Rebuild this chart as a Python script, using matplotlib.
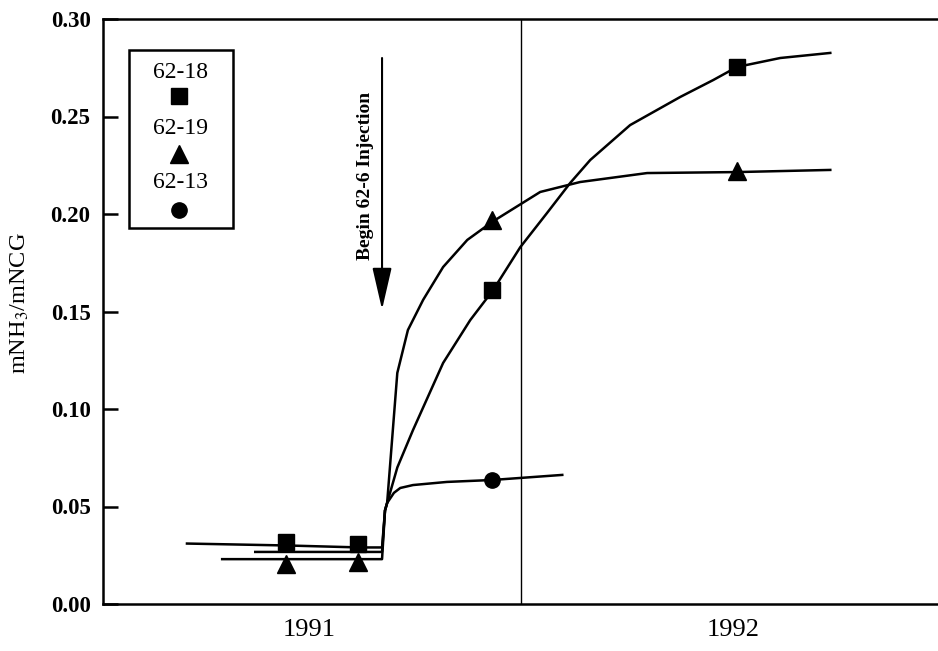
import numpy as np
import matplotlib.pyplot as plt

plt.rcParams['font.family'] = ['Liberation Serif', 'DejaVu Serif']
plt.rcParams['mathtext.fontset'] = 'stix'

# curves (decimal year, mNH3/mNCG)
x_6218 = [1991.212, 1991.45, 1991.62, 1991.672, 1991.679, 1991.684, 1991.708, 1991.745,
          1991.816, 1991.880, 1991.934, 1991.998, 1992.061, 1992.116, 1992.163, 1992.257,
          1992.375, 1992.453, 1992.509, 1992.611, 1992.729]
y_6218 = [0.031, 0.030, 0.029, 0.029, 0.048, 0.0518, 0.070, 0.0892,
          0.1236, 0.1456, 0.161, 0.183, 0.2005, 0.216, 0.2277, 0.2456,
          0.260, 0.2687, 0.2754, 0.280, 0.2826]

x_6219 = [1991.295, 1991.45, 1991.62, 1991.672, 1991.679, 1991.684, 1991.708, 1991.733,
          1991.769, 1991.816, 1991.873, 1991.932, 1992.045, 1992.139, 1992.297, 1992.509, 1992.729]
y_6219 = [0.023, 0.023, 0.023, 0.023, 0.048, 0.0518, 0.1185, 0.1405,
          0.156, 0.1728, 0.1867, 0.196, 0.2113, 0.2164, 0.221, 0.2215, 0.2226]

x_6213 = [1991.373, 1991.62, 1991.672, 1991.679, 1991.684, 1991.700, 1991.715, 1991.745,
          1991.825, 1991.932, 1992.097]
y_6213 = [0.0267, 0.0267, 0.0267, 0.048, 0.0518, 0.057, 0.0595, 0.061,
          0.0626, 0.0636, 0.0662]

# measured points
pts_6218_x = [1991.446, 1991.616, 1991.932, 1992.509]
pts_6218_y = [0.032, 0.031, 0.161, 0.2755]
pts_6219_x = [1991.446, 1991.616, 1991.932, 1992.509]
pts_6219_y = [0.0205, 0.0215, 0.197, 0.222]
pts_6213_x = [1991.932]
pts_6213_y = [0.0636]

legend_labels = ['62-18', '62-19', '62-13']
legend_markers = ['s', '^', 'o']

year_ticks = [1991.5, 1992.5]
year_labels = ['1991', '1992']
y_ticks = [0.0, 0.05, 0.10, 0.15, 0.20, 0.25, 0.30]

injection_year = 1991.672

fig = plt.figure(figsize=(9.38, 6.51), dpi=100)
ax = fig.add_axes([103/938, 47/651, 835/938, 585/651])

lw = 1.8
ax.plot(x_6218, y_6218, color='black', lw=lw)
ax.plot(x_6219, y_6219, color='black', lw=lw)
ax.plot(x_6213, y_6213, color='black', lw=lw)
ax.plot(pts_6218_x, pts_6218_y, 's', color='black', ms=12, ls='none')
ax.plot(pts_6219_x, pts_6219_y, '^', color='black', ms=13, ls='none')
ax.plot(pts_6213_x, pts_6213_y, 'o', color='black', ms=11, ls='none')

# year divider
ax.axvline(1992.0, color='black', lw=1.0)

ax.set_xlim(1991.014, 1992.983)
ax.set_ylim(0, 0.30)

ax.spines['right'].set_visible(False)
for s in ['left', 'bottom', 'top']:
    ax.spines[s].set_linewidth(lw)

ax.set_yticks(y_ticks)
ax.set_yticklabels(['%.2f' % v for v in y_ticks], fontweight='bold', fontsize=16.5)
ax.tick_params(axis='y', direction='in', length=11, width=lw, pad=9)
ax.set_xticks(year_ticks)
ax.set_xticklabels(year_labels, fontsize=19)
ax.tick_params(axis='x', length=0, pad=11)

fig.text(20/938, 1 - 303/651, r'mNH$_3$/mNCG', rotation=90, fontsize=17.5,
         ha='center', va='center')

# injection arrow
ax.annotate('', xy=(injection_year, 0.151), xytext=(injection_year, 0.280),
            arrowprops=dict(arrowstyle='-|>,head_length=1.3,head_width=0.3',
                            color='black', lw=1.5, mutation_scale=20,
                            shrinkA=0, shrinkB=0))
ax.text(injection_year - 0.038, 0.2195, 'Begin 62-6 Injection', rotation=90,
        ha='center', va='center', fontsize=14, fontweight='bold')

# legend box drawn by hand
def axfrac(px, py):
    return (px - 103) / 835, (604 - py) / 585

x0, y0 = axfrac(129, 228)
x1, y1 = axfrac(233, 50)
ax.add_patch(plt.Rectangle((x0, y0), x1 - x0, y1 - y0, transform=ax.transAxes,
                           fill=False, lw=lw, color='black'))
text_rows = [73, 129, 183]
mark_rows = [96, 154, 210]
sizes = [12, 13, 11]
for lab, mk, ty, my, ms in zip(legend_labels, legend_markers, text_rows, mark_rows, sizes):
    tx, tyy = axfrac(180, ty)
    ax.text(tx, tyy, lab, transform=ax.transAxes, ha='center', va='center', fontsize=17)
    mx, myy = axfrac(179, my)
    ax.plot([mx], [myy], mk, color='black', ms=ms, transform=ax.transAxes)

fig.savefig('out.png', dpi=100)
